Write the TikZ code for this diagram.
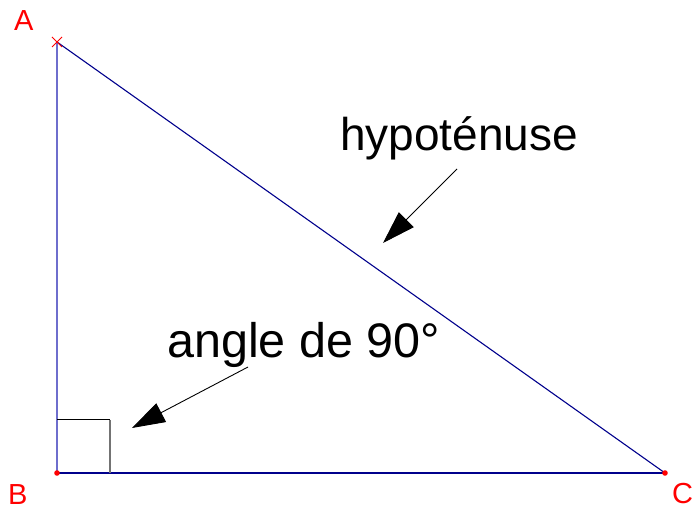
\documentclass[tikz,border=0pt]{standalone}
\usepackage{fontspec}
\setmainfont{Liberation Sans}
\usetikzlibrary{arrows.meta,calc}
\definecolor{tri}{RGB}{0,0,140}
\definecolor{trilight}{RGB}{110,110,205}
\definecolor{ptred}{RGB}{255,0,0}
\tikzset{
  side/.style={draw=tri, line width=1.1pt},
  ptlabel/.style={text=ptred, font=\fontsize{29}{34}\selectfont, inner sep=0pt, anchor=base west},
  biglabel/.style={font=\fontsize{46}{54}\selectfont, inner sep=0pt, anchor=base west},
  pointer/.style={draw=black, line width=0.9pt, -{Triangle[length=33pt,width=21pt]}},
}
\begin{document}
\begin{tikzpicture}[x=1pt,y=-1pt]
\useasboundingbox (0,0) rectangle (694,510);
% vertices
\coordinate (A) at (57,42);
\coordinate (B) at (57,473);
\coordinate (C) at (665,473);
% right-angle mark corners
\coordinate (R1) at (57,420);
\coordinate (R2) at (110,420);
\coordinate (R3) at (110,473);
% triangle
\draw[draw=trilight, line width=1.4pt] (A) -- (B);
\draw[side] (B) -- (C);
\draw[side] (A) -- (C);
% right angle square
\draw[black, line width=1pt] (R1) -- (R2);
\draw[black!55, line width=1.2pt] (R2) -- (R3);
% point markers
\draw[ptred, line width=0.9pt] ($(A)+(-5,-5)$) -- ($(A)+(5,5)$) ($(A)+(-5,5)$) -- ($(A)+(5,-5)$);
\fill[ptred] (B) circle (2.8);
\fill[ptred] (C) circle (2.8);
% point labels
\node[ptlabel] (lA) at (14,31) {A};
\node[ptlabel] (lB) at (8,505) {B};
\node[ptlabel] (lC) at (672,504) {C};
% text labels
\node[biglabel] (hyp) at (340,151) {hypoténuse};
\node[biglabel, font=\fontsize{48.5}{56}\selectfont] (ang) at (167,358) {angle de 90°};
% arrows
\coordinate (h1) at (457,169);
\coordinate (h2) at (383,243);
\coordinate (a1) at (248,367);
\coordinate (a2) at (132,428);
\draw[pointer] (h1) -- (h2);
\draw[pointer] (a1) -- (a2);
\end{tikzpicture}
\end{document}
